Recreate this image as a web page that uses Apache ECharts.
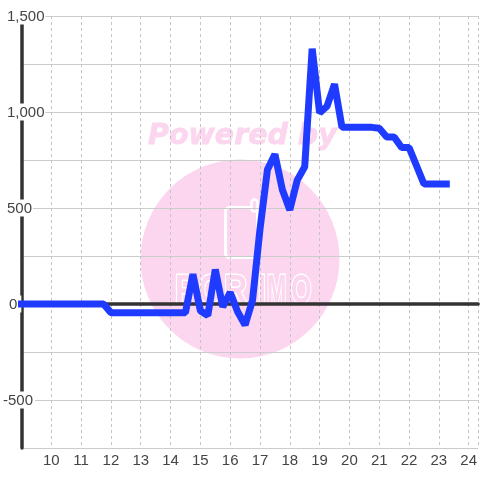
<!DOCTYPE html>
<html><head><meta charset="utf-8">
<style>html,body{margin:0;padding:0;background:#fff}#c{width:480px;height:480px}</style>
<script src="https://cdn.jsdelivr.net/npm/echarts@6/dist/echarts.min.js"></script>
</head><body><div id="c"></div>
<script>
const hours = [9,9.25,9.5,9.75,10,10.25,10.5,10.75,11,11.25,11.5,11.75,12,12.25,12.5,12.75,13,13.25,13.5,13.75,14,14.25,14.5,14.75,15,15.25,15.5,15.75,16,16.25,16.5,16.75,17,17.25,17.5,17.75,18,18.25,18.5,18.75,19,19.25,19.5,19.75,20,20.25,20.5,20.75,21,21.25,21.5,21.75,22,22.25,22.5,22.75,23,23.25];
const values = [0,0,0,0,0,0,0,0,0,0,0,0,-45,-45,-45,-45,-45,-45,-45,-45,-45,-45,-45,155,-35,-60,180,-15,60,-40,-110,20,390,700,780,595,490,645,715,1330,995,1030,1145,920,920,920,920,920,915,870,870,815,815,720,625,625,625,625];
const tickStep = 250;
const pink = '#fbd6ee';
const letters = [['P',175,0.8],['O',199,0.72],['R',224,0.8],['I',258,0.7],['M',267,0.58],['O',291,0.66]];
const chart = echarts.init(document.getElementById('c'), null, {renderer:'canvas'});
const series = hours.map((h,i)=>[h,values[i]]);
const graphic = [
  {type:'circle',z:-10,shape:{cx:240,cy:259,r:99.5},style:{fill:pink}},
  {type:'text',z:-10,x:148,y:122,style:{text:'Powered by',font:'italic bold 28.5px "DejaVu Sans"',fill:pink,stroke:pink,lineWidth:0.8}},
  {type:'rect',z:-9,shape:{x:225.5,y:207.5,width:32,height:50,r:4},style:{fill:'none',stroke:'#fff',lineWidth:3}},
  {type:'rect',z:-9,shape:{x:251.5,y:199.5,width:6,height:12,r:3},style:{fill:pink,stroke:'#fff',lineWidth:2.5}}
].concat(letters.map(([t,x,sx])=>({type:'text',z:-9,x:x,y:272,scaleX:sx,style:{text:t,font:'bold 40px "Liberation Sans"',fill:pink,stroke:'#fff',lineWidth:3}})));
chart.setOption({
  animation:false,
  backgroundColor:'#fff',
  grid:{left:20.5,right:0,top:16,bottom:32},
  graphic:graphic,
  xAxis:{type:'value',min:9,max:24.317,interval:1,
    axisLine:{onZero:true,lineStyle:{color:'#333',width:3.5}},axisTick:{show:false},
    splitLine:{show:true,lineStyle:{color:'#c4c4c4',type:[3,3],width:1}},
    axisLabel:{showMinLabel:false,showMaxLabel:false,color:'#444',fontSize:15,fontFamily:'Liberation Sans',margin:5,
      formatter:v=>Number.isInteger(v)?String(v):''},
    position:'bottom'},
  yAxis:{type:'value',min:-750,max:1500,interval:tickStep,
    axisLine:{show:true,onZero:false,lineStyle:{color:'#333',width:3.5}},axisTick:{show:false},
    splitLine:{show:true,lineStyle:{color:'#ccc',width:1}},
    axisLabel:{color:'#444',fontSize:15,fontFamily:'Liberation Sans',align:'left',margin:18.5,
      formatter:v=>{
        if(v%500!==0) return '';
        const s=v.toLocaleString('en-US');
        if(v<0) return '{n|'+s+'}';
        return (v===0?'{z|'+s+'}':'{p|'+s+'}');
      },
      rich:{
        n:{fontSize:15,color:'#444',backgroundColor:'#fff',padding:[2,2,0,0],lineHeight:16},
        p:{fontSize:15,color:'#444',backgroundColor:'#fff',padding:[2,1,0,4],lineHeight:16},
        z:{fontSize:15,color:'#444',backgroundColor:'#fff',padding:[2,4,0,6],lineHeight:16}
      }}},
  series:[{type:'line',data:series,showSymbol:false,symbol:'none',clip:false,z:5,
    lineStyle:{color:'#1f3bff',width:7,cap:'square',join:'bevel'}}]
});
</script></body></html>
